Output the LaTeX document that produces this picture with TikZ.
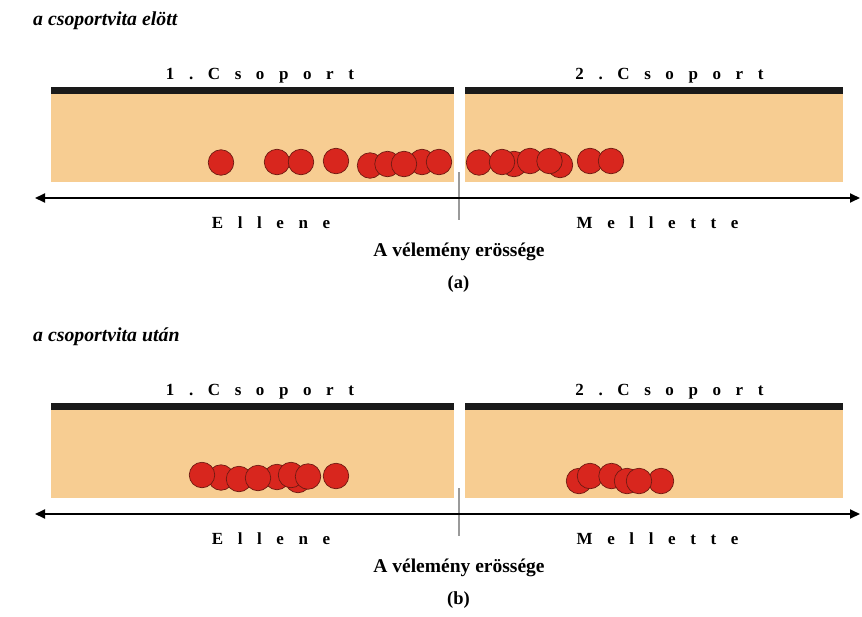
\documentclass[tikz,border=0pt]{standalone}
\usepackage{fontspec}
\setmainfont{Liberation Serif}
\usetikzlibrary{arrows.meta}
\definecolor{beige}{HTML}{F7CD92}
\definecolor{dotred}{HTML}{D8261E}
\definecolor{dotrim}{HTML}{6E1A12}
\definecolor{barblack}{HTML}{1A1A1A}
\definecolor{tickgray}{HTML}{9A9A9A}
\newcommand\lgap{\hspace{14.6pt}}
\tikzset{
  panelbox/.style={fill=beige, draw=none},
  topbar/.style={fill=barblack, draw=none},
  dot/.style={circle, fill=dotred, draw=dotrim, line width=0.7pt, minimum size=25.5pt, inner sep=0pt},
  spacedlbl/.style={font=\fontsize{17}{20}\selectfont\bfseries, anchor=base, inner sep=0pt},
  axislbl/.style={font=\fontsize{19.5}{22}\selectfont\bfseries, anchor=base, inner sep=0pt},
  caplbl/.style={font=\fontsize{18.5}{22}\selectfont\bfseries, anchor=base, inner sep=0pt},
  titlelbl/.style={font=\fontsize{19.8}{22}\selectfont\bfseries\itshape, anchor=base west, inner sep=0pt},
  axis/.style={line width=1.8pt, {Triangle[length=10pt,width=9pt]}-{Triangle[length=10pt,width=9pt]}},
  tickline/.style={draw=tickgray, line width=1.4pt}
}
\newcommand\panelframe[3]{%
  \path[panelbox] (51,93) rectangle (454,182);
  \path[topbar] (51,87) rectangle (454,93.5);
  \path[panelbox] (465,93) rectangle (843,182);
  \path[topbar] (465,87) rectangle (843,93.5);
  \coordinate (#1T1) at (459,172);
  \coordinate (#1T2) at (459,220);
  \draw[tickline] (#1T1) -- (#1T2);
  \coordinate (#1L) at (35,198);
  \coordinate (#1R) at (860,198);
  \draw[axis] (#1L) -- (#1R);
  \node[spacedlbl] (#1gA) at (260,79) {1\lgap.\lgap C\lgap s\lgap o\lgap p\lgap o\lgap r\lgap t};
  \node[spacedlbl] (#1gB) at (669.5,79) {2\lgap.\lgap C\lgap s\lgap o\lgap p\lgap o\lgap r\lgap t};
  \node[spacedlbl] (#1con) at (271,228) {E\lgap l\lgap l\lgap e\lgap n\lgap e};
  \node[spacedlbl] (#1pro) at (657.5,228) {M\lgap e\lgap l\lgap l\lgap e\lgap t\lgap t\lgap e};
  \node[axislbl] (#1ax) at (459,256) {A vélemény erössége};
  \node[caplbl] (#1cap) at (458.5,288) {(#2)};
  \node[titlelbl] (#1ttl) at (33,25) {#3};
}
\begin{document}
\begin{tikzpicture}[x=1pt,y=-1pt]
\useasboundingbox[fill=white] (0,0) rectangle (862,616);
% panel (a)
\panelframe{a}{a}{a csoportvita elött}
\node[dot] (ad1) at (221,162.5) {};
\node[dot] (ad2) at (277,162) {};
\node[dot] (ad3) at (301,162) {};
\node[dot] (ad4) at (336,161) {};
\node[dot] (ad5) at (370,165.5) {};
\node[dot] (ad6) at (387.5,164) {};
\node[dot] (ad8) at (422,162) {};
\node[dot] (ad7) at (404,164) {};
\node[dot] (ad9) at (439,162) {};
\node[dot] (ae1) at (479,162.5) {};
\node[dot] (ae3) at (514,164) {};
\node[dot] (ae2) at (502,162) {};
\node[dot] (ae4) at (530,161) {};
\node[dot] (ae5) at (560,165) {};
\node[dot] (ae6) at (549.5,161) {};
\node[dot] (ae7) at (590,161) {};
\node[dot] (ae8) at (611,161) {};
% panel (b)
\begin{scope}[yshift=-316pt]
\panelframe{b}{b}{a csoportvita után}
\node[dot] (bd2) at (221,161.5) {};
\node[dot] (bd1) at (202,159) {};
\node[dot] (bd3) at (239,163) {};
\node[dot] (bd5) at (277,161) {};
\node[dot] (bd4) at (258,162) {};
\node[dot] (bd9) at (298,164) {};
\node[dot] (bd6) at (291,159) {};
\node[dot] (bd7) at (308,160.5) {};
\node[dot] (bd8) at (336,160) {};
\node[dot] (be1) at (579,165) {};
\node[dot] (be2) at (590,160) {};
\node[dot] (be3) at (611.5,160) {};
\node[dot] (be4) at (627,165) {};
\node[dot] (be6) at (661,165) {};
\node[dot] (be5) at (639,165) {};
\end{scope}
\end{tikzpicture}
\end{document}
